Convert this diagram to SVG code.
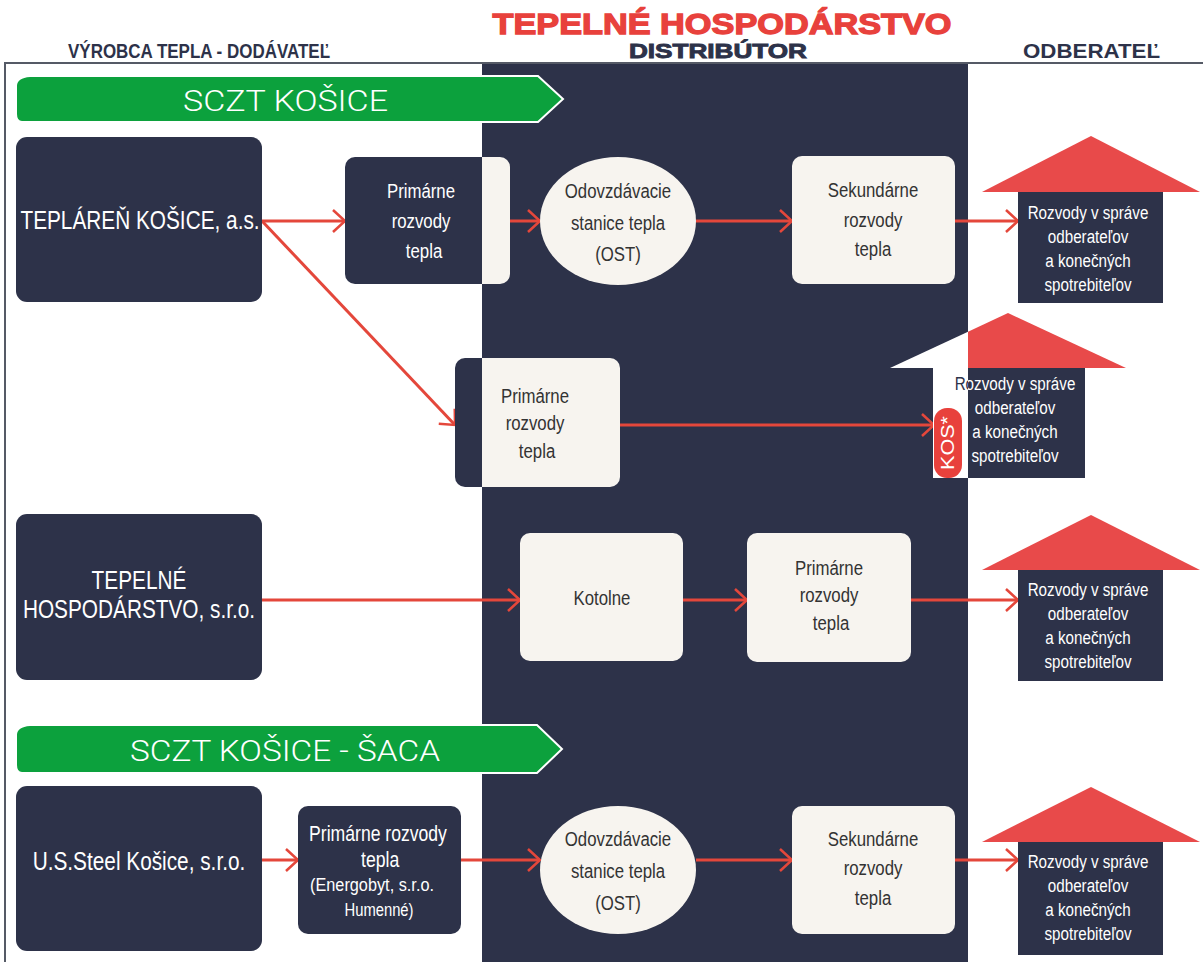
<svg xmlns="http://www.w3.org/2000/svg" width="1203" height="962" viewBox="0 0 1203 962">
<style>
.nar{font-family:"Liberation Sans",Arial,sans-serif;}
.nar text, text.nar{transform:scaleX(0.8);transform-box:fill-box;transform-origin:50% 50%;}
.nar text.free{transform:none;}
.w{fill:#ffffff;}
.d{fill:#2d3249;}
.t{fill:#333333;}
.lt{fill:#f7f4ef;}
.dk{fill:#2d3249;}
.roof{fill:#e84a4a;}
.conn{stroke:#e4473b;stroke-width:3;fill:none;marker-end:url(#arr);}
.ban{fill:#0ca13d;stroke:#ffffff;stroke-width:2;}
.bant{font-family:Roboto,"Liberation Sans",sans-serif;font-weight:300;fill:#ffffff;font-size:30px;}
.hd{font-family:"Liberation Sans",Arial,sans-serif;font-weight:bold;fill:#2d3249;font-size:21px;}
</style>
<defs>
<marker id="arr" markerUnits="userSpaceOnUse" markerWidth="16" markerHeight="26" viewBox="0 0 16 26" refX="14" refY="13" orient="auto">
<path d="M2,2 L14,13 L2,24" fill="none" stroke="#e4473b" stroke-width="2.5"/>
</marker>
<clipPath id="cLeft"><rect x="0" y="0" width="482" height="962"/></clipPath>
<clipPath id="cCol"><rect x="482" y="0" width="486" height="962"/></clipPath>
<clipPath id="cRight"><rect x="968" y="0" width="235" height="962"/></clipPath>
</defs>
<rect x="0" y="0" width="1203" height="962" fill="#ffffff"/>
<rect x="482" y="62" width="486" height="900" class="dk"/>
<path d="M5,962 L5,63 L1203,63" fill="none" stroke="#555a66" stroke-width="2"/>

<g id="header">
<text x="722" y="34" text-anchor="middle" font-family="'Liberation Sans','DejaVu Sans',sans-serif" font-weight="bold" font-size="30" fill="#e8413c" stroke="#e8413c" stroke-width="1.3" textLength="459" lengthAdjust="spacingAndGlyphs">TEPELNÉ HOSPODÁRSTVO</text>
<text x="718" y="58" text-anchor="middle" font-family="'Liberation Sans','DejaVu Sans',sans-serif" font-weight="bold" font-size="20" fill="#2d3249" stroke="#2d3249" stroke-width="0.9" textLength="178" lengthAdjust="spacingAndGlyphs">DISTRIBÚTOR</text>
<text x="68" y="58" class="hd" textLength="262" lengthAdjust="spacingAndGlyphs">VÝROBCA TEPLA - DODÁVATEĽ</text>
<text x="1023" y="58" class="hd" textLength="137" lengthAdjust="spacingAndGlyphs">ODBERATEĽ</text>
</g>

<g id="banner1">
<path class="ban" d="M30,76 L538,76 L563,99 L538,122 L22,122 Q16,122 16,114 L16,86 Q16,77 30,76 Z"/>
<text x="183" y="111" class="bant" textLength="205" lengthAdjust="spacingAndGlyphs">SCZT KOŠICE</text>
</g>
<g id="banner2">
<path class="ban" d="M30,725 L537,725 L562,749 L537,773 L22,773 Q16,773 16,765 L16,735 Q16,726 30,725 Z"/>
<text x="130" y="761" class="bant" textLength="310" lengthAdjust="spacingAndGlyphs">SCZT KOŠICE - ŠACA</text>
</g>

<g id="connectors">
<line class="conn" x1="262" y1="221" x2="345" y2="221"/>
<line class="conn" x1="510" y1="221" x2="540" y2="221"/>
<line class="conn" x1="696" y1="221" x2="792" y2="221"/>
<line class="conn" x1="955" y1="221" x2="1018" y2="221"/>
<line class="conn" x1="262" y1="221" x2="455" y2="425"/>
<line class="conn" x1="620" y1="425" x2="934" y2="425"/>
<line class="conn" x1="262" y1="600" x2="520" y2="600"/>
<line class="conn" x1="683" y1="600" x2="747" y2="600"/>
<line class="conn" x1="911" y1="600" x2="1018" y2="600"/>
<line class="conn" x1="262" y1="860" x2="298" y2="860"/>
<line class="conn" x1="461" y1="860" x2="540" y2="860"/>
<line class="conn" x1="696" y1="860" x2="792" y2="860"/>
<line class="conn" x1="955" y1="860" x2="1018" y2="860"/>
</g>

<g id="teplaren">
<rect x="16" y="137" width="246" height="165" rx="11" class="dk"/>
<text x="140" y="229" text-anchor="middle" class="nar w" font-size="26">TEPLÁREŇ KOŠICE, a.s.</text>
</g>

<g id="primarne1">
<rect x="345" y="157" width="165" height="127" rx="10" class="dk" clip-path="url(#cLeft)"/>
<rect x="345" y="157" width="165" height="127" rx="10" class="lt" clip-path="url(#cCol)"/>
<g class="nar w" font-size="21" text-anchor="middle">
<text x="421" y="198">Primárne</text>
<text x="421" y="228">rozvody</text>
<text x="424" y="258">tepla</text>
</g>
</g>

<g id="ost1">
<ellipse cx="618" cy="221" rx="78" ry="64" class="lt"/>
<g class="nar t" font-size="21" text-anchor="middle">
<text x="618" y="198">Odovzdávacie</text>
<text x="618" y="230">stanice tepla</text>
<text x="618" y="261">(OST)</text>
</g>
</g>

<g id="sekundarne1">
<rect x="792" y="156" width="163" height="128" rx="10" class="lt"/>
<g class="nar t" font-size="21" text-anchor="middle">
<text x="873" y="197">Sekundárne</text>
<text x="873" y="227">rozvody</text>
<text x="873" y="256">tepla</text>
</g>
</g>

<g id="odberatel1">
<polygon points="982,192 1091,136 1200,192" class="roof"/>
<rect x="1018" y="192" width="145" height="111" class="dk"/>
<g class="nar w" font-size="19" text-anchor="middle">
<text x="1088" y="219">Rozvody v správe</text>
<text x="1088" y="243">odberateľov</text>
<text x="1088" y="267">a konečných</text>
<text x="1088" y="291">spotrebiteľov</text>
</g>
</g>

<g id="primarne2">
<rect x="455" y="358" width="165" height="129" rx="10" class="dk" clip-path="url(#cLeft)"/>
<rect x="455" y="358" width="165" height="129" rx="10" class="lt" clip-path="url(#cCol)"/>
<g class="nar t" font-size="21" text-anchor="middle">
<text x="535" y="403">Primárne</text>
<text x="535" y="430">rozvody</text>
<text x="537" y="458">tepla</text>
</g>
</g>

<g id="odberatel2">
<polygon points="890,368 1008,313 1126,368" fill="#ffffff" clip-path="url(#cCol)"/>
<polygon points="890,368 1008,313 1126,368" class="roof" clip-path="url(#cRight)"/>
<rect x="933" y="368" width="152" height="110" fill="#ffffff" clip-path="url(#cCol)"/>
<rect x="933" y="368" width="152" height="110" class="dk" clip-path="url(#cRight)"/>
<g class="nar" font-size="19" text-anchor="middle">
<g class="d" clip-path="url(#cCol)">
<text x="1015" y="390">Rozvody v správe</text>
<text x="1015" y="414">odberateľov</text>
<text x="1015" y="438">a konečných</text>
<text x="1015" y="462">spotrebiteľov</text>
</g>
<g class="w" clip-path="url(#cRight)">
<text x="1015" y="390">Rozvody v správe</text>
<text x="1015" y="414">odberateľov</text>
<text x="1015" y="438">a konečných</text>
<text x="1015" y="462">spotrebiteľov</text>
</g>
</g>
<rect x="934" y="408" width="28" height="70" rx="13" fill="#e8413c"/>
<text x="0" y="0" transform="translate(954,443) rotate(-90)" text-anchor="middle" font-family="'Liberation Sans',Arial,sans-serif" fill="#ffffff" font-size="18" textLength="54" lengthAdjust="spacingAndGlyphs">KOS*</text>
</g>

<g id="tepelne">
<rect x="16" y="514" width="246" height="166" rx="11" class="dk"/>
<g class="nar w" font-size="26" text-anchor="middle">
<text x="139" y="589">TEPELNÉ</text>
<text x="139" y="618">HOSPODÁRSTVO, s.r.o.</text>
</g>
</g>

<g id="kotolne">
<rect x="520" y="533" width="163" height="128" rx="10" class="lt"/>
<text x="602" y="605" text-anchor="middle" class="nar t" font-size="21">Kotolne</text>
</g>

<g id="primarne3">
<rect x="747" y="533" width="164" height="129" rx="10" class="lt"/>
<g class="nar t" font-size="21" text-anchor="middle">
<text x="829" y="575">Primárne</text>
<text x="829" y="602">rozvody</text>
<text x="831" y="630">tepla</text>
</g>
</g>

<g id="odberatel3">
<polygon points="982,570 1091,515 1200,570" class="roof"/>
<rect x="1018" y="570" width="145" height="111" class="dk"/>
<g class="nar w" font-size="19" text-anchor="middle">
<text x="1088" y="596">Rozvody v správe</text>
<text x="1088" y="620">odberateľov</text>
<text x="1088" y="644">a konečných</text>
<text x="1088" y="668">spotrebiteľov</text>
</g>
</g>

<g id="usssteel">
<rect x="16" y="786" width="246" height="165" rx="11" class="dk"/>
<text x="139" y="870" text-anchor="middle" class="nar w" font-size="26">U.S.Steel Košice, s.r.o.</text>
</g>

<g id="energobyt">
<rect x="298" y="806" width="163" height="128" rx="10" class="dk"/>
<g class="nar w" text-anchor="middle">
<text x="378" y="841" font-size="22">Primárne rozvody</text>
<text x="380" y="867" font-size="22">tepla</text>
<text class="free" x="372" y="891" font-size="18" textLength="124" lengthAdjust="spacingAndGlyphs">(Energobyt, s.r.o.</text>
<text class="free" x="379" y="916" font-size="18" textLength="69" lengthAdjust="spacingAndGlyphs">Humenné)</text>
</g>
</g>

<g id="ost2">
<ellipse cx="618" cy="870" rx="78" ry="64" class="lt"/>
<g class="nar t" font-size="21" text-anchor="middle">
<text x="618" y="846">Odovzdávacie</text>
<text x="618" y="878">stanice tepla</text>
<text x="618" y="910">(OST)</text>
</g>
</g>

<g id="sekundarne2">
<rect x="792" y="806" width="163" height="128" rx="10" class="lt"/>
<g class="nar t" font-size="21" text-anchor="middle">
<text x="873" y="846">Sekundárne</text>
<text x="873" y="875">rozvody</text>
<text x="873" y="905">tepla</text>
</g>
</g>

<g id="odberatel4">
<polygon points="982,842 1091,787 1200,842" class="roof"/>
<rect x="1018" y="842" width="145" height="113" class="dk"/>
<g class="nar w" font-size="19" text-anchor="middle">
<text x="1088" y="868">Rozvody v správe</text>
<text x="1088" y="892">odberateľov</text>
<text x="1088" y="916">a konečných</text>
<text x="1088" y="940">spotrebiteľov</text>
</g>
</g>
</svg>
